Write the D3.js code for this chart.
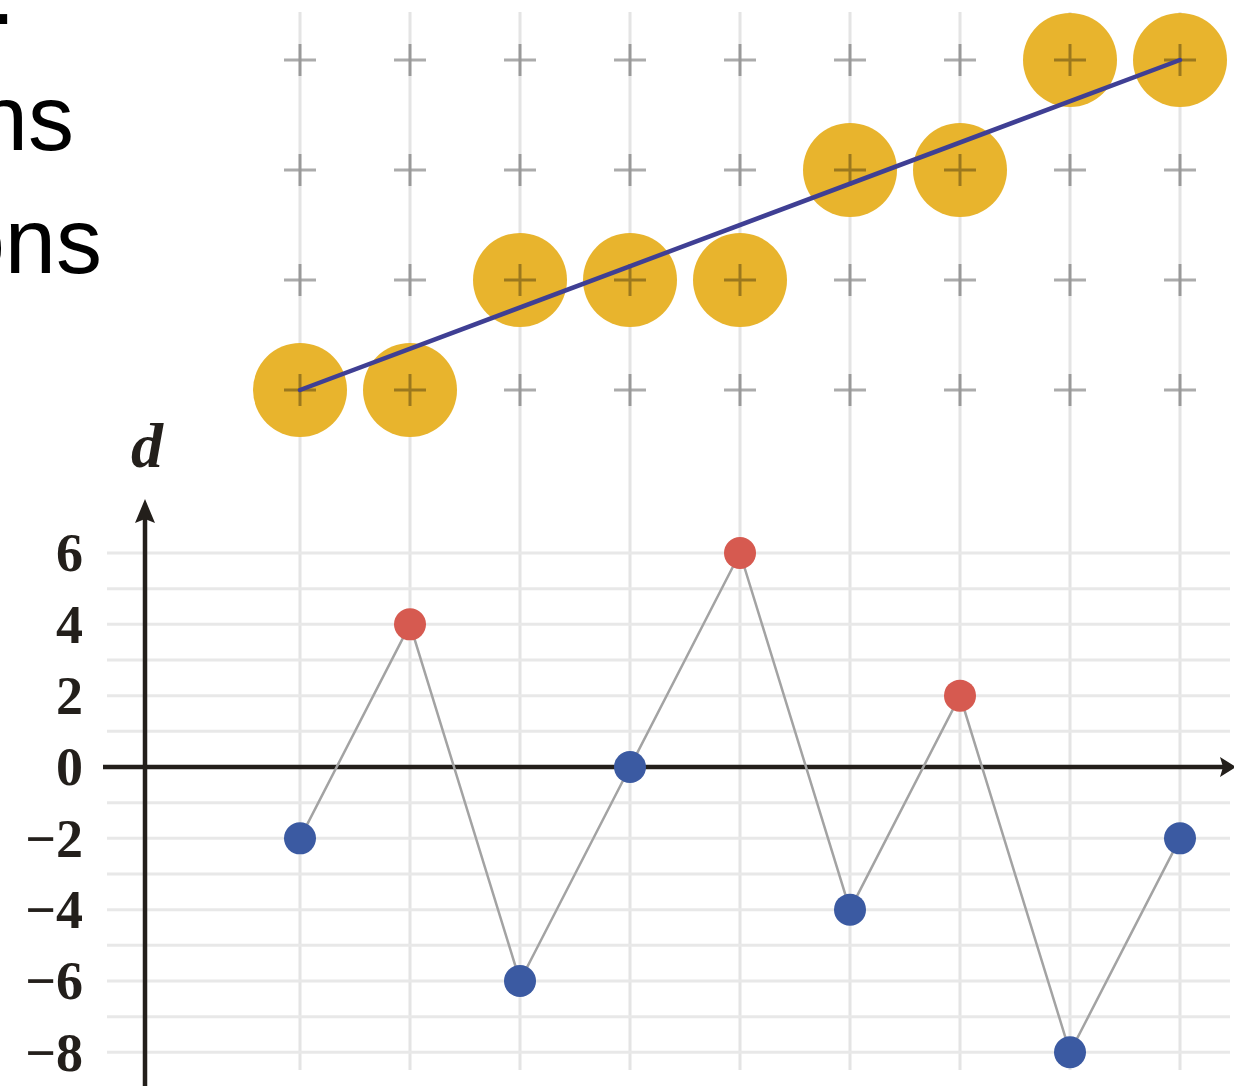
<!DOCTYPE html>
<html>
<head>
<meta charset="utf-8">
<script src="https://cdn.jsdelivr.net/npm/d3@7"></script>
<style>
  html, body { margin: 0; padding: 0; background: #fff; overflow: hidden; }
  svg { display: block; }
</style>
</head>
<body>
<svg id="chart" width="1234" height="1086"></svg>
<script>
// ---- data ----
const steps = [0, 1, 2, 3, 4, 5, 6, 7, 8];            // pixel column index
const pixelRows = [0, 0, 1, 1, 1, 2, 2, 3, 3];         // chosen pixel row per column
const gridRows = [0, 1, 2, 3];                         // pixel grid rows
const decision = [-2, 4, -6, 0, 6, -4, 2, -8, -2];     // decision variable d
const yTicks = [-8, -6, -4, -2, 0, 2, 4, 6];
const yGridValues = [-8, -7, -6, -5, -4, -3, -2, -1, 1, 2, 3, 4, 5, 6];
const lineStart = [0, 0];
const lineEnd = [8, 3];
const textFragments = [".", "ns", "ons"];

// ---- scales ----
const svg = d3.select("#chart");
const x = d3.scaleLinear().domain([0, 8]).range([300, 1180]);
const yTop = d3.scaleLinear().domain([0, 3]).range([390, 60]);
const yBot = d3.scaleLinear().domain([-8, 6]).range([1052.3, 553]);

// ---- cropped text on left ----
const textG = svg.append("g").attr("font-family", "Liberation Sans, Arial, sans-serif")
  .attr("font-size", 92).attr("fill", "#000").attr("text-anchor", "end");
textG.append("text").attr("x", 15.5).attr("y", 24).text(textFragments[0]);
textG.append("text").attr("x", 74).attr("y", 150).text(textFragments[1]);
textG.append("text").attr("x", 102).attr("y", 273).text(textFragments[2]);

// ---- grid ----
svg.append("g").selectAll("line").data(steps).join("line")
  .attr("x1", d => x(d)).attr("x2", d => x(d))
  .attr("y1", 12).attr("y2", 1070)
  .attr("stroke", "#e4e4e4").attr("stroke-width", 3);

svg.append("g").selectAll("line").data(yGridValues).join("line")
  .attr("x1", 107).attr("x2", 1230)
  .attr("y1", d => yBot(d)).attr("y2", d => yBot(d))
  .attr("stroke", "#e8e8e8").attr("stroke-width", 3);

// ---- pixel circles ----
svg.append("g").selectAll("circle").data(steps).join("circle")
  .attr("cx", d => x(d)).attr("cy", (d, i) => yTop(pixelRows[i]))
  .attr("r", 47).attr("fill", "#e8b42d");

// ---- plus markers ----
const plusData = [];
gridRows.forEach(r => steps.forEach(c => plusData.push({c, r})));
const plusG = svg.append("g").attr("stroke", "#000").attr("stroke-opacity", 0.33).attr("stroke-width", 3);
plusG.selectAll("path").data(plusData).join("path")
  .attr("d", p => {
    const cx = x(p.c), cy = yTop(p.r), h = 16;
    return `M${cx - h},${cy}H${cx + h}M${cx},${cy - h}V${cy + h}`;
  }).attr("fill", "none");

// ---- ideal line ----
svg.append("line")
  .attr("x1", x(lineStart[0])).attr("y1", yTop(lineStart[1]))
  .attr("x2", x(lineEnd[0])).attr("y2", yTop(lineEnd[1]))
  .attr("stroke", "#3f3f94").attr("stroke-width", 4.5).attr("stroke-linecap", "round");

// ---- axes ----
const axisColor = "#231f1b";
svg.append("line").attr("x1", 103).attr("x2", 1224)
  .attr("y1", yBot(0)).attr("y2", yBot(0))
  .attr("stroke", axisColor).attr("stroke-width", 4.5);
svg.append("path")
  .attr("d", `M1236,${yBot(0)}L1220,${yBot(0) - 10}L1223,${yBot(0)}L1220,${yBot(0) + 10}Z`)
  .attr("fill", axisColor);

svg.append("line").attr("x1", 145).attr("x2", 145)
  .attr("y1", 1090).attr("y2", 512)
  .attr("stroke", axisColor).attr("stroke-width", 4.5);
svg.append("path")
  .attr("d", `M145,499L135,523L145,519L155,523Z`)
  .attr("fill", axisColor);

// axis label
svg.append("text").attr("x", 147).attr("y", 467)
  .attr("text-anchor", "middle")
  .attr("font-family", "Liberation Serif, DejaVu Serif, serif")
  .attr("font-style", "italic").attr("font-weight", "bold")
  .attr("font-size", 64).attr("fill", axisColor).text("d");

// tick labels
svg.append("g").selectAll("text").data(yTicks).join("text")
  .attr("x", 83).attr("y", d => yBot(d))
  .attr("dy", "0.34em")
  .attr("text-anchor", "end")
  .attr("font-family", "Liberation Serif, DejaVu Serif, serif")
  .attr("font-weight", "bold").attr("font-size", 54)
  .attr("fill", axisColor)
  .text(d => d < 0 ? "\u2212" + Math.abs(d) : String(d));

// ---- decision line ----
const line = d3.line().x((d, i) => x(steps[i])).y(d => yBot(d));
svg.append("path").datum(decision).attr("d", line)
  .attr("fill", "none").attr("stroke", "#a3a3a3").attr("stroke-width", 2.5);

svg.append("g").selectAll("circle").data(decision).join("circle")
  .attr("cx", (d, i) => x(steps[i])).attr("cy", d => yBot(d))
  .attr("r", 16)
  .attr("fill", d => d > 0 ? "#d65a50" : "#3b5aa2");
</script>
</body>
</html>
